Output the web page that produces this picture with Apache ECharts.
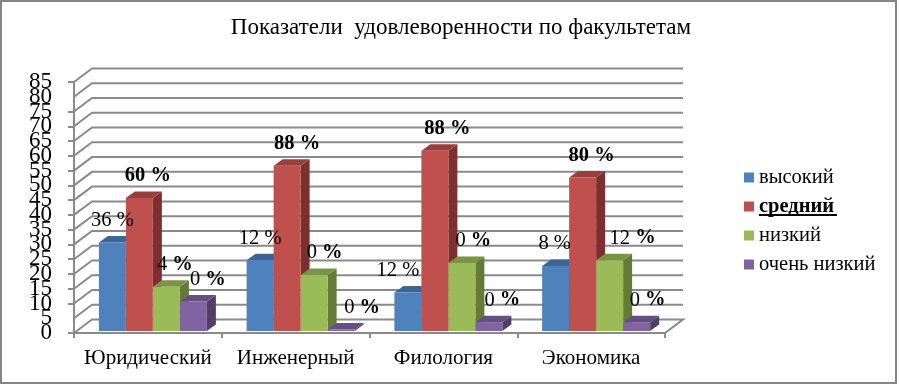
<!DOCTYPE html>
<html lang="ru" style="height: 100%">

<head>
  <meta charset="utf-8">
  <style>
    html,
    body {
      margin: 0;
      padding: 0;
      width: 100%;
      height: 100%;
      overflow: hidden;
      background: #fff;
    }

    #frame {
      position: absolute;
      left: 0;
      top: 0;
      right: 0;
      bottom: 0;
      box-sizing: border-box;
      border: 2px solid #868686;
    }
  </style>
</head>

<body>
  <div id="container" style="height: 100%;width: 100%;"></div>
  <div id="frame"></div>

  <script type="text/javascript" src="https://cdn.jsdelivr.net/npm/echarts@6/dist/echarts.min.js"></script>
  <script type="text/javascript">

    var titleText = 'Показатели  удовлеворенности по факультетам';
    var categories = ['Юридический', 'Инженерный', 'Филология', 'Экономика'];
    var yTicks = [0, 5, 10, 15, 20, 25, 30, 35, 40, 45, 50, 55, 60, 65, 70, 75, 80, 85];

    var seriesNames = ['высокий', 'средний', 'низкий', 'очень низкий'];
    var highValues = [30, 24, 13, 22];
    var midValues = [45, 56, 61, 52];
    var lowValues = [15, 19, 23, 24];
    var veryLowValues = [10, 0.5, 3, 3];

    var highLabels = ['36', '12', '12', '8'];
    var midLabels = ['60', '88', '88', '80'];
    var lowLabels = ['4', '0', '0', '12'];
    var veryLowLabels = ['0', '0', '0', '0'];

    var fontName = '"Liberation Serif", serif';
    var gridColor = '#8a8a8a';

    // 3d look
    var depth = { x: 18, y: -13.5 };
    var barDepth = { x: 9, y: -6.5 };
    var barShift = { x: 5, y: -2 };
    var barWidth = 27;

    // horizontal label shift from the bar centre, labels were moved by hand in the original
    var labelDx = [
      [0, 0, -10, -1],
      [8.5, 10, 12.5, 9],
      [8.5, 10.5, 11.5, 23],
      [14.5, 21, 13.5, 11]
    ];

    var colors = [
      { front: '#4f81bd', top: '#3b6595', side: '#2f5278' },
      { front: '#c0504d', top: '#983f3d', side: '#7c2f2e' },
      { front: '#9bbb59', top: '#7a9446', side: '#647a38' },
      { front: '#8064a2', top: '#654f80', side: '#523f69' }
    ];

    function barLeft(api, i, index) {
      var band = api.size([1, 0])[0];
      var center = api.coord([i, 0])[0];
      return center - band / 2 + (band - barWidth * 4) / 2 + barShift.x + barWidth * index;
    }

    function makeBarSeries(index, values) {
      var c = colors[index];
      return {
        name: seriesNames[index],
        type: 'custom',
        z: 3 + index,
        clip: false,
        itemStyle: { color: c.front },
        data: values.map(function (v, i) { return [i, v]; }),
        renderItem: function (params, api) {
          var i = params.dataIndex;
          var x = barLeft(api, i, index);
          var y0 = api.coord([i, 0])[1] + barShift.y;
          var y1 = api.coord([i, api.value(1)])[1] + barShift.y;
          var dx = barDepth.x;
          var dy = barDepth.y;

          return {
            type: 'group',
            children: [
              {
                type: 'polygon',
                shape: { points: [[x + barWidth, y1], [x + barWidth + dx, y1 + dy], [x + barWidth + dx, y0 + dy], [x + barWidth, y0]] },
                style: { fill: c.side }
              },
              {
                type: 'polygon',
                shape: { points: [[x, y1], [x + barWidth, y1], [x + barWidth + dx, y1 + dy], [x + dx, y1 + dy]] },
                style: { fill: c.top }
              },
              {
                type: 'rect',
                shape: { x: x, y: y1, width: barWidth, height: y0 - y1 },
                style: { fill: c.front }
              }
            ]
          };
        }
      };
    }

    // labels go in their own series so no bar paints over them
    function makeLabelSeries(index, values, labels) {
      return {
        type: 'custom',
        z: 20,
        clip: false,
        silent: true,
        data: values.map(function (v, i) { return [i, v]; }),
        renderItem: function (params, api) {
          var i = params.dataIndex;
          var y1 = api.coord([i, api.value(1)])[1] + barShift.y;
          var txt;
          if (index === 0) {
            txt = '{r|' + labels[i] + ' %}';
          } else if (index === 1) {
            txt = '{b|' + labels[i] + ' %}';
          } else {
            txt = '{r|' + labels[i] + ' }{b|%}';
          }
          return {
            type: 'text',
            style: {
              x: barLeft(api, i, index) + barWidth / 2 + labelDx[index][i],
              y: y1 - 22,
              text: txt,
              align: 'center',
              verticalAlign: 'middle',
              rich: {
                r: { font: '20.5px ' + fontName, fill: '#000' },
                b: { font: 'bold 20.5px ' + fontName, fill: '#000' }
              }
            }
          };
        }
      };
    }

    // back wall and side wall lines
    var wallSeries = {
      type: 'custom',
      z: 1,
      silent: true,
      tooltip: { show: false },
      data: yTicks.map(function (t) { return [0, t]; }),
      renderItem: function (params, api) {
        var p = api.coord([0, api.value(1)]);
        var rect = params.coordSys;
        var xl = rect.x;
        var xr = rect.x + rect.width;
        var y = p[1];
        var points = [[xl, y], [xl + depth.x, y + depth.y], [xr + depth.x, y + depth.y]];
        if (api.value(1) === 0) {
          points.push([xr, y]);
        }
        return { type: 'polyline', shape: { points: points }, style: { stroke: gridColor, lineWidth: 2, fill: null } };
      }
    };

    var yLabelStyle = {
      color: '#000',
      fontFamily: fontName,
      fontSize: 23,
      margin: 22,
      padding: [4, 0, 0, 0],
      showMinLabel: true,
      showMaxLabel: true,
      hideOverlap: false
    };

    var option = {
      animation: false,
      backgroundColor: '#fff',
      title: {
        text: titleText,
        left: 456,
        top: 11,
        textAlign: 'center',
        textStyle: { fontFamily: fontName, fontSize: 23, fontWeight: 'normal', color: '#000' }
      },
      legend: {
        orient: 'vertical',
        left: 739,
        top: 162,
        icon: 'rect',
        itemWidth: 10,
        itemHeight: 10,
        itemGap: 8,
        selectedMode: false,
        data: seriesNames,
        formatter: function (name) {
          return name === seriesNames[1] ? '{b|' + name + '}' : name;
        },
        textStyle: {
          fontFamily: fontName,
          fontSize: 20.5,
          color: '#000',
          rich: { b: { fontFamily: fontName, fontSize: 20.5, fontWeight: 'bold', color: '#000' } }
        }
      },
      graphic: [{
        type: 'rect',
        shape: { x: 759, y: 214, width: 78, height: 2 },
        style: { fill: '#000' }
      }],
      grid: { left: 74, top: 82, width: 591, height: 251 },
      xAxis: {
        type: 'category',
        data: categories,
        axisLine: { lineStyle: { color: gridColor, width: 2 } },
        axisTick: { show: true, alignWithLabel: false, length: 5, lineStyle: { color: gridColor, width: 2 } },
        axisLabel: { color: '#000', fontFamily: fontName, fontSize: 21, margin: 15, interval: 0 }
      },
      yAxis: [{
        type: 'value',
        min: 0,
        max: 85,
        interval: 5,
        splitLine: { show: false },
        axisLine: { show: true, lineStyle: { color: gridColor, width: 2 } },
        axisTick: { show: true, length: 6, lineStyle: { color: gridColor, width: 2 } },
        axisLabel: yLabelStyle
      }, {
        // the axis drops the labels next to 0 and 85, this one puts them back
        type: 'value',
        position: 'left',
        min: 0,
        max: 85,
        interval: 5,
        splitLine: { show: false },
        axisLine: { show: false },
        axisTick: { show: false },
        axisLabel: Object.assign({}, yLabelStyle, {
          formatter: function (v) {
            return v === yTicks[1] || v === yTicks[yTicks.length - 2] ? String(v) : '';
          }
        })
      }],
      series: [
        wallSeries,
        makeBarSeries(0, highValues),
        makeBarSeries(1, midValues),
        makeBarSeries(2, lowValues),
        makeBarSeries(3, veryLowValues),
        makeLabelSeries(0, highValues, highLabels),
        makeLabelSeries(1, midValues, midLabels),
        makeLabelSeries(2, lowValues, lowLabels),
        makeLabelSeries(3, veryLowValues, veryLowLabels)
      ]
    };

    var myChart = echarts.init(document.getElementById('container'), null, { renderer: 'canvas' });
    myChart.setOption(option);
    window.addEventListener('resize', myChart.resize);

  </script>
</body>

</html>
